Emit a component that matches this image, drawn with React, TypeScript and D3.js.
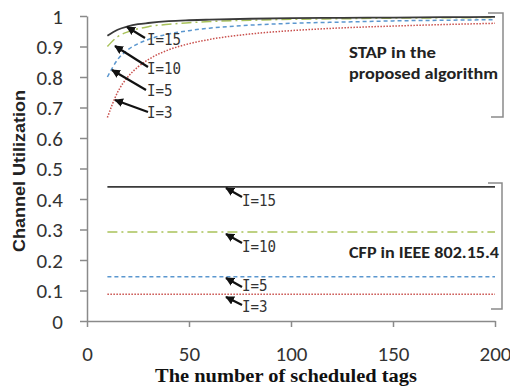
import React, { useRef, useEffect } from 'react';
import * as d3 from 'd3';

// number of scheduled tags
const tags = [10, 15, 20, 25, 30, 40, 50, 60, 80, 100, 125, 150, 175, 200];

// STAP in the proposed algorithm
const stapI3 = [0.667, 0.75, 0.8, 0.833, 0.857, 0.889, 0.909, 0.923, 0.941, 0.952, 0.961, 0.967, 0.972, 0.976];
const stapI5 = [0.8, 0.857, 0.889, 0.909, 0.923, 0.941, 0.952, 0.96, 0.97, 0.976, 0.98, 0.984, 0.986, 0.988];
const stapI10 = [0.9, 0.932, 0.948, 0.958, 0.965, 0.973, 0.978, 0.982, 0.986, 0.989, 0.991, 0.993, 0.994, 0.995];
const stapI15 = [0.935, 0.955, 0.966, 0.973, 0.977, 0.983, 0.986, 0.988, 0.991, 0.993, 0.994, 0.995, 0.996, 0.997];

// CFP in IEEE 802.15.4 (flat)
const cfpI3 = 0.088;
const cfpI5 = 0.145;
const cfpI10 = 0.292;
const cfpI15 = 0.44;

const xTicks = [0, 50, 100, 150, 200];
const yTicks = [0, 0.1, 0.2, 0.3, 0.4, 0.5, 0.6, 0.7, 0.8, 0.9, 1];

const App = () => {
  const svgRef = useRef(null);

  useEffect(() => {
    const svg = d3.select(svgRef.current);
    svg.selectAll('*').remove();

    const width = 510;
    const height = 389;
    const margin = { top: 16, right: 15, bottom: 68, left: 87 };
    const innerWidth = width - margin.left - margin.right;
    const innerHeight = height - margin.top - margin.bottom;

    const xScale = d3.scaleLinear().domain([0, 200]).range([0, innerWidth]);
    const yScale = d3.scaleLinear().domain([0, 1]).range([innerHeight, 0]);

    const defs = svg.append('defs');
    defs.append('marker')
      .attr('id', 'arrowhead')
      .attr('viewBox', '0 0 10 10')
      .attr('refX', 9)
      .attr('refY', 5)
      .attr('markerWidth', 4)
      .attr('markerHeight', 4)
      .attr('orient', 'auto')
      .attr('markerUnits', 'strokeWidth')
      .append('path')
      .attr('d', 'M0,0 L10,5 L0,10 z')
      .attr('fill', '#111');

    const g = svg.append('g')
      .attr('transform', `translate(${margin.left},${margin.top})`);

    const tickFont = 'Carlito, "Open Sans", "Liberation Sans", sans-serif';

    // y axis
    const yAxis = g.append('g')
      .call(d3.axisLeft(yScale).tickValues(yTicks).tickSize(7).tickSizeOuter(0)
        .tickFormat(d => (d === 0 || d === 1 ? String(d) : d3.format('.1f')(d))));
    yAxis.select('.domain').attr('stroke', '#8a8a8a').attr('stroke-width', 1.5);
    yAxis.selectAll('.tick line').attr('stroke', '#8a8a8a').attr('stroke-width', 1.5);
    yAxis.selectAll('.tick text')
      .attr('x', -24)
      .attr('dy', '0.34em')
      .style('font-family', tickFont)
      .style('font-size', '21px')
      .style('fill', '#333');

    // x axis
    const xAxis = g.append('g')
      .attr('transform', `translate(0,${innerHeight})`)
      .call(d3.axisBottom(xScale).tickValues(xTicks).tickSize(6).tickSizeOuter(0));
    xAxis.select('.domain').attr('stroke', '#8a8a8a').attr('stroke-width', 1.5);
    xAxis.selectAll('.tick line').attr('stroke', '#8a8a8a').attr('stroke-width', 1.5);
    xAxis.selectAll('.tick text')
      .attr('y', 25)
      .style('font-family', tickFont)
      .style('font-size', '21px')
      .style('fill', '#333');

    const series = [
      { id: 'I=3', stap: stapI3, cfp: cfpI3, color: '#c9504d', dash: '1.5,1.5' },
      { id: 'I=5', stap: stapI5, cfp: cfpI5, color: '#5b97cf', dash: '4,3' },
      { id: 'I=10', stap: stapI10, cfp: cfpI10, color: '#a9c25a', dash: '10,4,2,4' },
      { id: 'I=15', stap: stapI15, cfp: cfpI15, color: '#3a3a3a', dash: null },
    ];

    const line = d3.line()
      .x(d => xScale(d[0]))
      .y(d => yScale(d[1]))
      .curve(d3.curveMonotoneX);

    series.forEach(s => {
      g.append('path')
        .attr('d', line(tags.map((t, i) => [t, s.stap[i]])))
        .attr('fill', 'none')
        .attr('stroke', s.color)
        .attr('stroke-width', s.dash ? 1.5 : 1.8)
        .attr('stroke-dasharray', s.dash);
      g.append('path')
        .attr('d', line([[tags[0], s.cfp], [tags[tags.length - 1], s.cfp]]))
        .attr('fill', 'none')
        .attr('stroke', s.color)
        .attr('stroke-width', s.dash ? 1.5 : 1.8)
        .attr('stroke-dasharray', s.dash);
    });

    // annotation arrows (page coords)
    const annFont = '"DejaVu Sans Mono", "Liberation Mono", monospace';
    const arrows = [
      { x1: 145, y1: 38, x2: 127, y2: 27, label: 'I=15', lx: 147, ly: 45 },
      { x1: 148, y1: 67, x2: 115, y2: 46, label: 'I=10', lx: 147, ly: 74 },
      { x1: 146, y1: 90, x2: 112, y2: 70, label: 'I=5', lx: 147, ly: 96 },
      { x1: 148, y1: 112, x2: 115, y2: 100, label: 'I=3', lx: 147, ly: 118 },
      { x1: 242, y1: 197, x2: 226, y2: 188, label: 'I=15', lx: 242, ly: 206 },
      { x1: 242, y1: 243, x2: 226, y2: 234, label: 'I=10', lx: 242, ly: 252 },
      { x1: 242, y1: 287, x2: 226, y2: 278, label: 'I=5', lx: 242, ly: 291 },
      { x1: 242, y1: 305, x2: 226, y2: 297, label: 'I=3', lx: 242, ly: 312 },
    ];
    arrows.forEach(a => {
      svg.append('line')
        .attr('x1', a.x1).attr('y1', a.y1)
        .attr('x2', a.x2).attr('y2', a.y2)
        .attr('stroke', '#111')
        .attr('stroke-width', 2.2)
        .attr('marker-end', 'url(#arrowhead)');
      svg.append('text')
        .attr('x', a.lx).attr('y', a.ly)
        .attr('textLength', a.label.length * 8.5)
        .attr('lengthAdjust', 'spacingAndGlyphs')
        .style('font-family', annFont)
        .style('font-size', '16px')
        .style('fill', '#333')
        .text(a.label);
    });

    // brackets
    const bracket = (top, bottom, x, topLeft, botLeft) => {
      svg.append('path')
        .attr('d', `M${topLeft},${top} L${x},${top} L${x},${bottom} L${botLeft},${bottom}`)
        .attr('fill', 'none')
        .attr('stroke', '#8a8a8a')
        .attr('stroke-width', 1.5);
    };
    bracket(13, 117, 503, 488, 491);
    bracket(183, 309, 502, 488, 491);

    const boldFont = 'Carlito, "Liberation Sans", sans-serif';
    const boldText = (x, y, w, txt) => {
      svg.append('text').attr('x', x).attr('y', y)
        .attr('textLength', w)
        .attr('lengthAdjust', 'spacingAndGlyphs')
        .style('font-family', boldFont).style('font-weight', 'bold')
        .style('font-size', '16px').style('fill', '#222')
        .text(txt);
    };
    boldText(349, 58, 87, 'STAP in the');
    boldText(349, 79, 149, 'proposed algorithm');
    boldText(349, 258, 150, 'CFP in IEEE 802.15.4');

    // axis titles
    svg.append('text')
      .attr('transform', 'translate(25,171) rotate(-90)')
      .style('text-anchor', 'middle')
      .style('font-family', '"Liberation Sans", Arial, sans-serif')
      .style('font-weight', 'bold')
      .style('font-size', '16px')
      .style('fill', '#222')
      .attr('textLength', 162)
      .attr('lengthAdjust', 'spacingAndGlyphs')
      .text('Channel Utilization');
    svg.append('text')
      .attr('x', 286).attr('y', 382)
      .style('text-anchor', 'middle')
      .style('font-family', '"Liberation Serif", "Times New Roman", serif')
      .style('font-weight', 'bold')
      .style('font-size', '18px')
      .style('fill', '#111')
      .attr('textLength', 262)
      .attr('lengthAdjust', 'spacingAndGlyphs')
      .text('The number of scheduled tags');
  }, []);

  return (
    <svg
      ref={svgRef}
      width={510}
      height={389}
      style={{ position: 'absolute', left: 0, top: 0, background: '#fff' }}
    ></svg>
  );
};

export default App;
